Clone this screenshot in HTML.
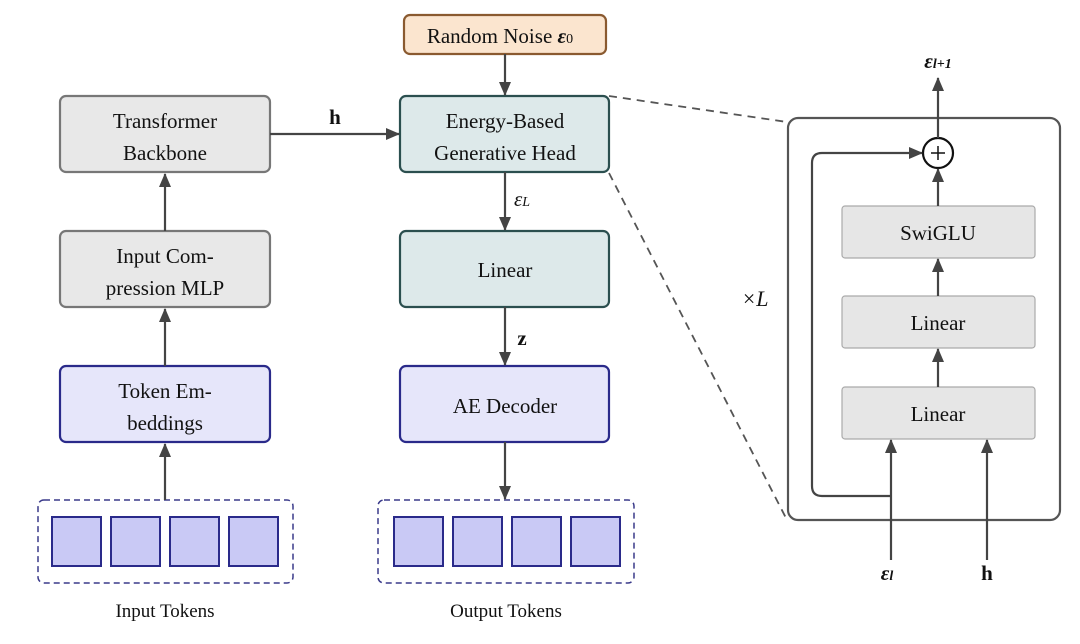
<!DOCTYPE html>
<html><head><meta charset="utf-8"><style>
body{margin:0;background:#fff;}
svg text{font-family:"Liberation Serif",serif;fill:#111;}
</style></head><body>
<svg width="1080" height="639" viewBox="0 0 1080 639" xmlns="http://www.w3.org/2000/svg">
<defs><marker id="a" markerWidth="10" markerHeight="10" refX="9" refY="5" orient="auto" markerUnits="userSpaceOnUse"><path d="M0,0 L10,5 L0,10 z" fill="#444"/></marker>
<marker id="b" markerWidth="14" markerHeight="14" refX="13" refY="7" orient="auto" markerUnits="userSpaceOnUse"><path d="M0,1 L14,7 L0,13 z" fill="#444"/></marker></defs>
<g stroke="#444" stroke-width="2.2" fill="none">
<!-- left column -->
<rect x="60" y="96" width="210" height="76" rx="6" fill="#e8e8e8" stroke="#777"/>
<rect x="60" y="231" width="210" height="76" rx="6" fill="#e8e8e8" stroke="#777"/>
<rect x="60" y="366" width="210" height="76" rx="6" fill="#e6e6fa" stroke="#2a2a8a"/>
<rect x="38" y="500" width="255" height="83" rx="6" stroke="#3a3a8a" stroke-width="1.5" stroke-dasharray="6,4"/>
<line x1="165" y1="231" x2="165" y2="174" marker-end="url(#b)"/>
<line x1="165" y1="366" x2="165" y2="309" marker-end="url(#b)"/>
<line x1="165" y1="500" x2="165" y2="444" marker-end="url(#b)"/>
<!-- middle -->
<rect x="404" y="15" width="202" height="39" rx="6" fill="#fbe5cf" stroke="#8a5a30"/>
<rect x="400" y="96" width="209" height="76" rx="6" fill="#dde9ea" stroke="#2b4f4f"/>
<rect x="400" y="231" width="209" height="76" rx="6" fill="#dde9ea" stroke="#2b4f4f"/>
<rect x="400" y="366" width="209" height="76" rx="6" fill="#e6e6fa" stroke="#2a2a8a"/>
<rect x="378" y="500" width="256" height="83" rx="6" stroke="#3a3a8a" stroke-width="1.5" stroke-dasharray="6,4"/>
<line x1="505" y1="54" x2="505" y2="95" marker-end="url(#b)"/>
<line x1="505" y1="172" x2="505" y2="230" marker-end="url(#b)"/>
<line x1="505" y1="307" x2="505" y2="365" marker-end="url(#b)"/>
<line x1="505" y1="442" x2="505" y2="499" marker-end="url(#b)"/>
<line x1="270" y1="134" x2="399" y2="134" marker-end="url(#b)"/>
<!-- dashed zoom lines -->
<line x1="609" y1="96" x2="787" y2="122" stroke="#555" stroke-width="1.8" stroke-dasharray="8,6"/>
<line x1="609" y1="173" x2="787" y2="520" stroke="#555" stroke-width="1.8" stroke-dasharray="8,6"/>
<!-- right -->
<rect x="788" y="118" width="272" height="402" rx="10" stroke="#555"/>
<rect x="842" y="206" width="193" height="52" rx="3" fill="#e6e6e6" stroke="#aaa" stroke-width="1.2"/>
<rect x="842" y="296" width="193" height="52" rx="3" fill="#e6e6e6" stroke="#aaa" stroke-width="1.2"/>
<rect x="842" y="387" width="193" height="52" rx="3" fill="#e6e6e6" stroke="#aaa" stroke-width="1.2"/>
<circle cx="938" cy="153" r="15" stroke="#111" fill="#fff"/>
<line x1="931" y1="153" x2="945" y2="153" stroke="#111" stroke-width="1.5"/>
<line x1="938" y1="146" x2="938" y2="160" stroke="#111" stroke-width="1.5"/>
<line x1="938" y1="138" x2="938" y2="78" marker-end="url(#b)"/>
<line x1="938" y1="206" x2="938" y2="169" marker-end="url(#b)"/>
<line x1="938" y1="296" x2="938" y2="259" marker-end="url(#b)"/>
<line x1="938" y1="387" x2="938" y2="349" marker-end="url(#b)"/>
<line x1="891" y1="560" x2="891" y2="440" marker-end="url(#b)"/>
<line x1="987" y1="560" x2="987" y2="440" marker-end="url(#b)"/>
<path d="M891,496 L822,496 Q812,496 812,486 L812,163 Q812,153 822,153 L922,153" marker-end="url(#b)"/>
</g>
<g fill="#c9c9f5" stroke="#2a2a8a" stroke-width="2">
<rect x="52" y="517" width="49" height="49"/><rect x="111" y="517" width="49" height="49"/><rect x="170" y="517" width="49" height="49"/><rect x="229" y="517" width="49" height="49"/>
<rect x="394" y="517" width="49" height="49"/><rect x="453" y="517" width="49" height="49"/><rect x="512" y="517" width="49" height="49"/><rect x="571" y="517" width="49" height="49"/>
</g>
<g font-size="21" text-anchor="middle">
<text x="165" y="128">Transformer</text><text x="165" y="160">Backbone</text>
<text x="165" y="263">Input Com-</text><text x="165" y="295">pression MLP</text>
<text x="165" y="398">Token Em-</text><text x="165" y="430">beddings</text>
<text x="165" y="617" font-size="19">Input Tokens</text>
<text x="500" y="43">Random Noise <tspan font-style="italic" font-weight="bold">ε</tspan><tspan font-size="14">0</tspan></text>
<text x="505" y="128">Energy-Based</text><text x="505" y="160">Generative Head</text>
<text x="505" y="277">Linear</text>
<text x="505" y="413">AE Decoder</text>
<text x="506" y="617" font-size="19">Output Tokens</text>
<text x="335" y="124" font-weight="bold">h</text>
<text x="522" y="206" font-style="italic">ε<tspan font-size="14">L</tspan></text>
<text x="522" y="345" font-weight="bold">z</text>
<text x="938" y="240">SwiGLU</text>
<text x="938" y="330">Linear</text>
<text x="938" y="421" font-size="21">Linear</text>
<text x="938" y="68" font-style="italic" font-weight="bold">ε<tspan font-size="14">l+1</tspan></text>
<text x="755" y="306" font-size="22" font-style="italic">×L</text>
<text x="887" y="580" font-style="italic" font-weight="bold">ε<tspan font-size="14">l</tspan></text>
<text x="987" y="580" font-weight="bold">h</text>
</g>
</svg>
</body></html>
